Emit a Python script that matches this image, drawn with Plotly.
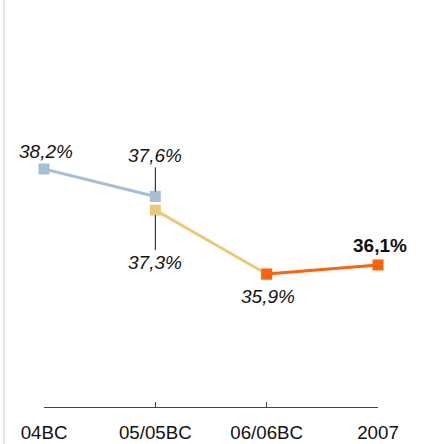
import plotly.graph_objects as go

categories = ["04BC", "05/05BC", "06/06BC", "2007"]
seg1_x = [0, 1]
seg1_y = [38.2, 37.6]
seg2_x = [1, 2]
seg2_y = [37.3, 35.9]
seg3_x = [2, 3]
seg3_y = [35.9, 36.1]
labels = ["38,2%", "37,6%", "37,3%", "35,9%", "36,1%"]

c_blue = "#a8bfd3"
c_beige = "#e8ca7c"
c_orange = "#ff6207"

FONT = "Liberation Sans, Arial, Helvetica, sans-serif"

fig = go.Figure()
for xs, ys, c in [(seg1_x, seg1_y, c_blue), (seg2_x, seg2_y, c_beige), (seg3_x, seg3_y, c_orange)]:
    fig.add_trace(go.Scatter(
        x=xs, y=ys, mode="lines+markers",
        line=dict(color=c, width=3),
        marker=dict(symbol="square", size=11, color=c),
        cliponaxis=False, hoverinfo="skip", showlegend=False,
    ))

font_it = dict(family=FONT, size=19, color="#111111")

# 38,2%
fig.add_annotation(x=seg1_x[0], y=seg1_y[0], text="<i>" + labels[0] + "</i>", showarrow=False,
                   yshift=18, xshift=2, font=font_it)
# 37,6% with leader
fig.add_annotation(x=seg1_x[1], y=seg1_y[1], text="<i>" + labels[1] + "</i>", showarrow=True,
                   ax=0, ay=-41, arrowhead=0, arrowwidth=1,
                   arrowcolor="#111111", standoff=5, startstandoff=0,
                   font=font_it)
# 37,3% with leader
fig.add_annotation(x=seg2_x[0], y=seg2_y[0], text="<i>" + labels[2] + "</i>", showarrow=True,
                   ax=0, ay=52, arrowhead=0, arrowwidth=1,
                   arrowcolor="#111111", standoff=5, startstandoff=0,
                   font=font_it)
# 35,9%
fig.add_annotation(x=seg3_x[0], y=seg3_y[0], text="<i>" + labels[3] + "</i>", showarrow=False,
                   yshift=-22.5, xshift=1, font=font_it)
# 36,1%
fig.add_annotation(x=seg3_x[1], y=seg3_y[1], text="<b>" + labels[4] + "</b>", showarrow=False,
                   yshift=19, xshift=1.5, font=dict(family=FONT, size=19, color="#111111"))

# left border line
fig.add_shape(type="line", xref="paper", yref="paper", x0=-40/334, x1=-40/334, y0=-37/407, y1=1,
              line=dict(color="#e6e6e6", width=2))

fig.update_layout(
    width=421, height=444,
    margin=dict(l=44, r=43, t=0, b=37, pad=0),
    paper_bgcolor="white", plot_bgcolor="white",
    xaxis=dict(range=[0, 3], tickvals=[0, 1, 2, 3], ticktext=categories,
               showline=True, linecolor="#444444", linewidth=1,
               ticks="inside", ticklen=5, tickwidth=1, tickcolor="#444444",
               showgrid=False, zeroline=False, ticklabelstandoff=9,
               tickfont=dict(family=FONT, size=18.7, color="#111111"),
               fixedrange=True),
    yaxis=dict(range=[32.99, 41.9], visible=False, showgrid=False, zeroline=False, fixedrange=True),
)

fig.write_html("out.html", config={"displayModeBar": False},
               post_script="document.body.style.margin='0';document.body.style.overflow='hidden';")
